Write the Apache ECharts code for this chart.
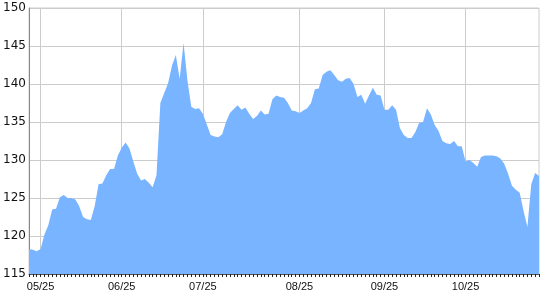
<!DOCTYPE html>
<html>
<head>
<meta charset="utf-8">
<script src="https://cdn.jsdelivr.net/npm/echarts@6/dist/echarts.min.js"></script>
<style>
html,body{margin:0;padding:0;background:#fff;}
#chart{width:540px;height:300px;}
</style>
</head>
<body>
<div id="chart"></div>
<script>
const dates = [
'05/20','05/21','05/22','05/25','05/26','05/27','05/28','05/29',
'06/01','06/02','06/03','06/04','06/05','06/08','06/09','06/10','06/11','06/12','06/15','06/16','06/17','06/18','06/23','06/24','06/25','06/26','06/29','06/30',
'07/02','07/03','07/06','07/07','07/08','07/09','07/10','07/13','07/14','07/15','07/16','07/17','07/20','07/21','07/22','07/23','07/24','07/25','07/28','07/29','07/30','07/31',
'08/01','08/03','08/04','08/05','08/06','08/07','08/10','08/11','08/12','08/13','08/14','08/15','08/17','08/18','08/19','08/20','08/21','08/22','08/23','08/24','08/25','08/26','08/27','08/28','08/29','08/31',
'09/01','09/02','09/03','09/04','09/07','09/08','09/09','09/10','09/11','09/14','09/15','09/16','09/17','09/18','09/21','09/22','09/25','09/28','09/29','09/30',
'10/01','10/02','10/05','10/06','10/07','10/08','10/09','10/12','10/13','10/14','10/15','10/16','10/19','10/20','10/21','10/22','10/23','10/25','10/26','10/27','10/28','10/29','10/30',
'11/02','11/03','11/04','11/05','11/06','11/09','11/10','11/11','11/12','11/13','11/16','11/17','11/18','11/19'
];
const values = [
118.3,118.2,118.0,118.3,120.2,121.4,123.5,123.6,125.1,125.4,
125.0,125.0,124.8,123.9,122.5,122.2,122.1,123.9,126.8,126.9,
128.0,128.8,128.8,130.6,131.6,132.3,131.5,129.8,128.2,127.3,
127.5,127.0,126.4,128.0,137.5,138.8,140.1,142.4,143.8,140.7,
145.4,140.5,137.0,136.7,136.8,136.1,134.7,133.3,133.1,133.0,
133.4,135.0,136.2,136.7,137.2,136.6,136.9,136.1,135.4,135.8,
136.5,136.0,136.1,138.0,138.5,138.3,138.2,137.5,136.5,136.4,
136.2,136.5,136.8,137.5,139.3,139.4,141.2,141.6,141.8,141.2,
140.5,140.3,140.7,140.8,140.0,138.3,138.6,137.4,138.5,139.5,
138.6,138.5,136.6,136.6,137.2,136.6,134.2,133.3,132.9,132.9,
133.7,134.9,135.0,136.8,136.0,134.6,133.8,132.5,132.2,132.1,
132.5,131.8,131.8,129.8,130.0,129.6,129.1,130.4,130.6,130.6,
130.6,130.5,130.2,129.5,128.2,126.6,126.1,125.7,123.3,121.2,
126.8,128.3,127.9
];
const labelDates = ['05/25','06/25','07/25','08/25','09/25','10/25'];
const yMin = 115, yMax = 150, yStep = 5;

const showLabel = (idx, val) => labelDates.indexOf(val) >= 0;
const chart = echarts.init(document.getElementById('chart'), null, {renderer:'canvas'});
chart.setOption({
  animation: false,
  backgroundColor: '#ffffff',
  grid: {left: 29, right: 1, top: 8, bottom: 26, show: true, borderColor: '#cccccc', borderWidth: 1},
  xAxis: {
    type: 'category',
    data: dates,
    boundaryGap: false,
    axisLine: {show: true, lineStyle: {color: '#555555', width: 1}},
    axisTick: {show: true, interval: 0, length: 3, lineStyle: {color: '#222222'}},
    axisLabel: {interval: showLabel, color: '#111111', fontSize: 11, fontFamily: 'Liberation Sans, Arial, sans-serif', margin: 7},
    splitLine: {show: true, interval: showLabel, lineStyle: {color: '#cccccc', width: 1}}
  },
  yAxis: {
    type: 'value',
    min: yMin, max: yMax, interval: yStep,
    axisLine: {show: true, lineStyle: {color: '#888888', width: 1}},
    axisTick: {show: false},
    axisLabel: {color: '#111111', fontSize: 12, fontFamily: 'DejaVu Sans, sans-serif', margin: 3},
    splitLine: {show: true, lineStyle: {color: '#cccccc', width: 1}}
  },
  series: [{
    type: 'line',
    data: values,
    showSymbol: false,
    symbol: 'none',
    lineStyle: {width: 0, color: '#78b4ff'},
    itemStyle: {color: '#78b4ff'},
    areaStyle: {color: '#78b4ff', opacity: 1}
  }]
});
</script>
</body>
</html>
